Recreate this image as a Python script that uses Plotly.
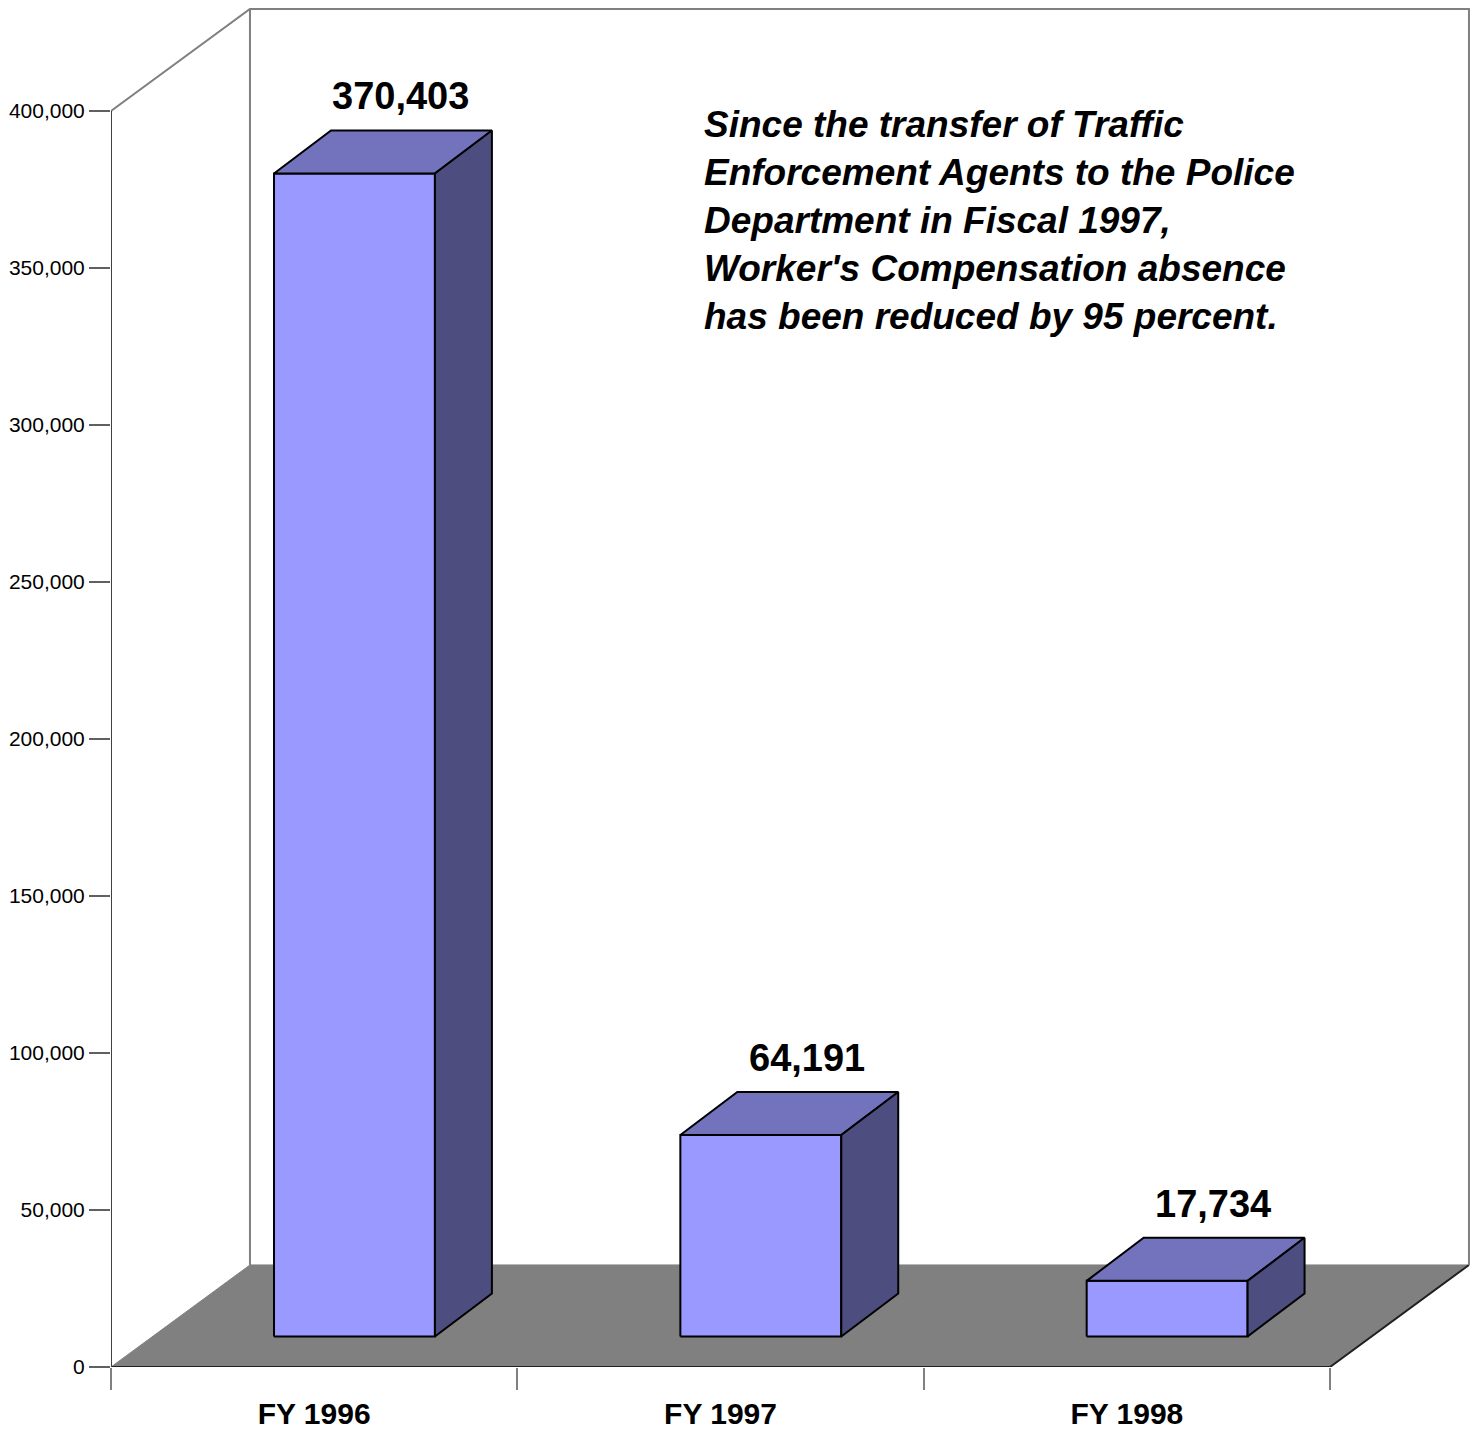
import plotly.graph_objects as go

# data
years = ["FY 1996", "FY 1997", "FY 1998"]
absence = [370403, 64191, 17734]
value_labels = ["370,403", "64,191", "17,734"]
y_ticks = [0, 50000, 100000, 150000, 200000, 250000, 300000, 350000, 400000]
note = ("Since the transfer of Traffic<br>Enforcement Agents to the Police<br>"
        "Department in Fiscal 1997,<br>Worker's Compensation absence<br>"
        "has been reduced by 95 percent.")

# fake 3d geometry (data units)
n = len(years)
ymax = 400000
DX, DY = 0.342, 32500      # depth vector of the floor/walls
F0, F1 = 0.29, 0.70        # bar front / back depth fraction
BW = 0.396                 # bar width

FRONT = "#9999FF"
TOP = "#7373BD"
SIDE = "#4D4D80"
WALL = "#808080"

fig = go.Figure()


def poly(xs, ys, fill, line_color="black", width=2):
    fig.add_trace(go.Scatter(
        x=xs + [xs[0]], y=ys + [ys[0]], mode="lines", fill="toself",
        fillcolor=fill, line=dict(color=line_color, width=width),
        hoverinfo="skip", showlegend=False))


def seg(xs, ys, color, width=2):
    fig.add_trace(go.Scatter(
        x=xs, y=ys, mode="lines", line=dict(color=color, width=width),
        hoverinfo="skip", showlegend=False))


# floor
poly([0, n, n + DX, DX], [0, 0, DY, DY], WALL, line_color=WALL, width=1)
seg([0, n, n + DX], [0, 0, DY], "#202020", 2)

# walls
seg([0, DX, n + DX, n + DX], [ymax, ymax + DY, ymax + DY, DY], WALL, 2)
seg([DX, DX], [DY, ymax + DY], WALL, 2)
seg([0, 0], [0, ymax], "#404040", 2)

# bars
for i, v in enumerate(absence):
    xl = i + 0.5 - BW / 2
    xr = i + 0.5 + BW / 2
    x0, x1 = F0 * DX, F1 * DX
    y0, y1 = F0 * 33440, F1 * 33440
    poly([xl + x0, xr + x0, xr + x0, xl + x0], [y0, y0, v + y0, v + y0], FRONT)
    poly([xl + x0, xr + x0, xr + x1, xl + x1], [v + y0, v + y0, v + y1, v + y1], TOP)
    poly([xr + x0, xr + x1, xr + x1, xr + x0], [y0, y1, v + y1, v + y0], SIDE)
    fig.add_annotation(
        x=i + 0.5 + 0.62 * DX, y=v + y1, text=value_labels[i], showarrow=False,
        yanchor="bottom", yshift=11,
        font=dict(family="Liberation Sans, Arial", size=38, color="black", weight="bold"))

fig.add_annotation(
    xref="paper", yref="paper", x=0.433, y=0.9305, xanchor="left", yanchor="top",
    align="left", text="<b><i>" + note + "</i></b>", showarrow=False,
    font=dict(family="Liberation Sans, Arial", size=37, color="black"))

# page body has an 8px margin: figure drawn at (8, 8)
W, H = 1471, 1424
L, R, T, B = 103, 1468, 0, 1359
px_per_x = (1330 - 111) / n
px_per_y = 1256 / ymax

fig.update_layout(
    width=W, height=H,
    margin=dict(l=L, r=W - R, t=T, b=H - B, autoexpand=False),
    paper_bgcolor="white", plot_bgcolor="white",
    xaxis=dict(
        range=[0, (R - L) / px_per_x], showgrid=False, zeroline=False, showline=False,
        tickvals=[i + 0.5 for i in range(n)], ticktext=years,
        ticks="outside", ticklen=20, tickcolor="rgba(0,0,0,0)",
        tickfont=dict(family="Liberation Sans, Arial", size=30, color="black", weight="bold"),
        minor=dict(tickvals=list(range(n + 1)), ticks="outside", ticklen=22,
                   tickcolor=WALL, tickwidth=2),
        fixedrange=True,
    ),
    yaxis=dict(
        range=[0, (B - T) / px_per_y], showgrid=False, zeroline=False, showline=False,
        tickvals=y_ticks, tickformat=",d",
        ticks="outside", ticklen=21, tickcolor="#606060", tickwidth=2,
        tickfont=dict(family="Liberation Sans, Arial", size=21, color="black"),
        fixedrange=True,
    ),
)

fig.write_html("out.html")
